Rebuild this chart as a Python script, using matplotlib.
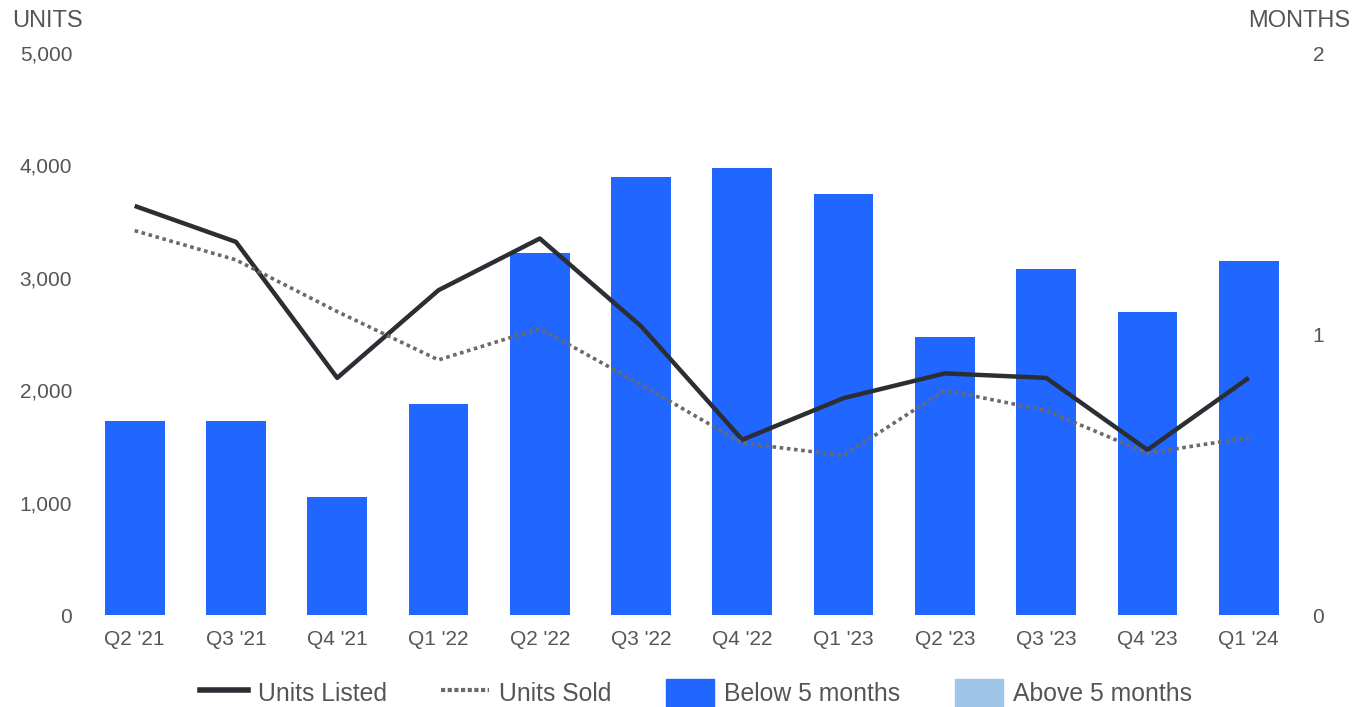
import matplotlib.pyplot as plt
from matplotlib.lines import Line2D
from matplotlib.patches import Patch
from matplotlib.ticker import FuncFormatter

plt.rcParams['font.family'] = ['Liberation Sans', 'DejaVu Sans']

quarters = ["Q2 '21", "Q3 '21", "Q4 '21", "Q1 '22", "Q2 '22", "Q3 '22",
            "Q4 '22", "Q1 '23", "Q2 '23", "Q3 '23", "Q4 '23", "Q1 '24"]
units_listed = [3640, 3320, 2110, 2890, 3350, 2570, 1560, 1930, 2150, 2110, 1470, 2110]
units_sold = [3420, 3160, 2700, 2270, 2550, 2050, 1530, 1420, 2000, 1820, 1440, 1580]
months_supply = [0.69, 0.69, 0.42, 0.75, 1.29, 1.56, 1.59, 1.50, 0.99, 1.23, 1.08, 1.26]

BLUE = '#2166ff'
LIGHT_BLUE = '#9fc5e8'
TEXT = '#555555'

fig = plt.figure(figsize=(13.64, 7.07), dpi=100)
ax = fig.add_axes([0.0616, 0.130, 0.891, 0.795])
ax2 = ax.twinx()

x = range(len(quarters))
ax2.bar(x, months_supply, width=0.59, color=BLUE, zorder=1)
ax2.set_ylim(0, 2)
ax2.set_yticks([0, 1, 2])

# lines drawn over the bars
ax.set_zorder(ax2.get_zorder() + 1)
ax.patch.set_visible(False)
ax.plot(x, units_listed, color='#2b2e33', lw=3.2, solid_capstyle='butt')
ax.plot(x, units_sold, color='#6a6a6a', lw=2.6, linestyle=(0, (1, 1)))
ax.set_ylim(0, 5000)
ax.set_xlim(-0.5, len(quarters) - 0.5)
ax.set_yticks(range(0, 5001, 1000))
ax.yaxis.set_major_formatter(FuncFormatter(lambda v, p: f'{int(v):,}'))
ax.set_xticks(list(x))
ax.set_xticklabels(quarters)

for a in (ax, ax2):
    for s in a.spines.values():
        s.set_visible(False)
    a.tick_params(length=0, labelsize=15, colors=TEXT)
ax.tick_params(axis='y', pad=8.5)
ax.tick_params(axis='x', pad=11)
ax2.tick_params(axis='y', pad=9.5)

fig.text(12 / 1364, 1 - 21 / 707, 'UNITS', fontsize=17, color=TEXT, va='center', ha='left')
fig.text(1350 / 1364, 1 - 21 / 707, 'MONTHS', fontsize=17, color=TEXT, va='center', ha='right')

handles = [
    Line2D([], [], color='#2b2e33', lw=4),
    Line2D([], [], color='#6a6a6a', lw=3, linestyle=(0, (1, 0.6))),
    Patch(color=BLUE),
    Patch(color=LIGHT_BLUE),
]
labels = ['Units Listed', 'Units Sold', 'Below 5 months', 'Above 5 months']
fig.legend(handles, labels, loc='center', bbox_to_anchor=(0.51, 0.02), ncol=4,
           frameon=False, fontsize=17.8, handlelength=1.95, handleheight=1.4,
           handletextpad=0.4, columnspacing=2.2, labelcolor=TEXT)

fig.savefig('out.png', dpi=100)
